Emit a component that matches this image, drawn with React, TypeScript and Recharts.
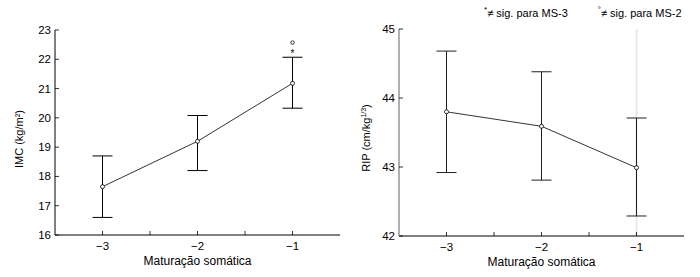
import { ErrorBar, Line, LineChart, ReferenceDot, ReferenceLine, XAxis, YAxis } from 'recharts';

const maturacao = [-3, -2, -1];

const imcMedia = [17.65, 19.2, 21.18];
const imcInferior = [16.6, 18.2, 20.33];
const imcSuperior = [18.7, 20.08, 22.07];

const ripMedia = [43.8, 43.59, 42.99];
const ripInferior = [42.92, 42.81, 42.29];
const ripSuperior = [44.68, 44.38, 43.71];

const xTicks = [-3, -2.5, -2, -1.5, -1];
const imcTicks = [16, 17, 18, 19, 20, 21, 22, 23];
const ripTicks = [42, 43, 44, 45];
const ripDireitaTicks = [0, 1, 2, 3, 4, 5, 6, 7];

// marcas de significância sobre MS-1 no IMC
const marcaGrauY = 22.57;
const marcaAsteriscoY = 22.3;

const FONT = '"Liberation Sans", Arial, sans-serif';

const imcData = maturacao.map((x, i) => ({
  x,
  media: imcMedia[i],
  erro: [imcMedia[i] - imcInferior[i], imcSuperior[i] - imcMedia[i]],
}));

const ripData = maturacao.map((x, i) => ({
  x,
  media: ripMedia[i],
  erro: [ripMedia[i] - ripInferior[i], ripSuperior[i] - ripMedia[i]],
}));

const formatMinus = (v: number) => (v < 0 ? `\u2212${Math.abs(v)}` : `${v}`);

function LeftTick({ x, y, payload }: any) {
  return (
    <g>
      <line x1={x} y1={y} x2={x + 4} y2={y} stroke="#000" strokeWidth={0.8} />
      <text x={x - 4} y={y + 4} textAnchor="end" fontSize={11.5} fontFamily={FONT} fill="#000">
        {payload.value}
      </text>
    </g>
  );
}

function RightTick({ x, y }: any) {
  return <line x1={x} y1={y} x2={x - 4} y2={y} stroke="#000" strokeWidth={0.8} />;
}

function TopTick({ x, y }: any) {
  return <line x1={x} y1={y} x2={x} y2={y + 4} stroke="#000" strokeWidth={0.8} />;
}

function BottomTick({ x, y, payload }: any) {
  const inteiro = Number.isInteger(payload.value);
  return (
    <g>
      <line x1={x} y1={y} x2={x} y2={y - 4} stroke="#000" strokeWidth={0.8} />
      {inteiro && (
        <text x={x} y={y + 15} textAnchor="middle" fontSize={11.5} fontFamily={FONT} fill="#000">
          {formatMinus(payload.value)}
        </text>
      )}
    </g>
  );
}

function xTitle({ viewBox }: any) {
  return (
    <text
      x={viewBox.x + viewBox.width / 2}
      y={viewBox.y + 30}
      textAnchor="middle"
      fontSize={12}
      fontFamily={FONT}
      fill="#000"
    >
      Maturação somática
    </text>
  );
}

function imcTitle() {
  const cx = 23;
  const cy = 139;
  return (
    <text
      x={cx}
      y={cy}
      transform={`rotate(-90, ${cx}, ${cy})`}
      textAnchor="middle"
      fontSize={11}
      fontFamily={FONT}
      fill="#000"
    >
      IMC (kg/m²)
    </text>
  );
}

function ripTitle() {
  const cx = 20;
  const cy = 138;
  return (
    <text
      x={cx}
      y={cy}
      transform={`rotate(-90, ${cx}, ${cy})`}
      textAnchor="middle"
      fontSize={11}
      fontFamily={FONT}
      fill="#000"
    >
      RIP (cm/kg
      <tspan dy={-4} fontSize={7}>
        1/3
      </tspan>
      <tspan dy={4}>)</tspan>
    </text>
  );
}

function ImcChart() {
  return (
    <LineChart
      width={350}
      height={277}
      data={imcData}
      margin={{ top: 30, right: 10, bottom: 0, left: 0 }}
    >
      <XAxis
        dataKey="x"
        type="number"
        domain={[-3.5, -0.5]}
        ticks={xTicks}
        height={42}
        tickSize={0}
        tickMargin={0}
        tickLine={false}
        axisLine={{ stroke: '#000', strokeWidth: 1 }}
        tick={<BottomTick />}
        label={{ content: xTitle }}
        allowDataOverflow
      />
      <XAxis
        xAxisId="top"
        dataKey="x"
        type="number"
        orientation="top"
        domain={[-3.5, -0.5]}
        ticks={xTicks}
        height={0}
        tickSize={0}
        tickMargin={0}
        tickLine={false}
        axisLine={{ stroke: '#000', strokeWidth: 1 }}
        tick={<TopTick />}
      />
      <YAxis
        type="number"
        domain={[16, 23]}
        ticks={imcTicks}
        width={55}
        tickSize={0}
        tickMargin={0}
        tickLine={false}
        axisLine={{ stroke: '#000', strokeWidth: 1 }}
        tick={<LeftTick />}
        label={{ content: imcTitle }}
        allowDataOverflow
      />
      <YAxis
        yAxisId="right"
        orientation="right"
        type="number"
        domain={[16, 23]}
        ticks={imcTicks}
        width={0}
        tickSize={0}
        tickMargin={0}
        tickLine={false}
        axisLine={{ stroke: '#000', strokeWidth: 1 }}
        tick={<RightTick />}
      />
      <Line
        dataKey="media"
        stroke="#000"
        strokeWidth={0.8}
        dot={{ r: 2, fill: '#fff', stroke: '#000', strokeWidth: 0.8 }}
        isAnimationActive={false}
      >
        <ErrorBar dataKey="erro" direction="y" width={10} stroke="#000" strokeWidth={1} />
      </Line>
      <ReferenceDot x={-1} y={marcaGrauY} r={1.7} fill="#fff" stroke="#000" strokeWidth={0.8} />
      <ReferenceDot
        x={-1}
        y={marcaAsteriscoY}
        r={0}
        stroke="none"
        label={{ value: '*', position: 'center', fontSize: 10, fontFamily: FONT, fill: '#000', dy: 3 }}
      />
    </LineChart>
  );
}

function RipChart() {
  return (
    <LineChart
      width={350}
      height={277}
      data={ripData}
      margin={{ top: 29, right: 16, bottom: 0, left: 0 }}
    >
      <XAxis
        dataKey="x"
        type="number"
        domain={[-3.5, -0.5]}
        ticks={xTicks}
        height={41}
        tickSize={0}
        tickMargin={0}
        tickLine={false}
        axisLine={{ stroke: '#000', strokeWidth: 1 }}
        tick={<BottomTick />}
        label={{ content: xTitle }}
        allowDataOverflow
      />
      <XAxis
        xAxisId="top"
        dataKey="x"
        type="number"
        orientation="top"
        domain={[-3.5, -0.5]}
        ticks={xTicks}
        height={0}
        tickSize={0}
        tickMargin={0}
        tickLine={false}
        axisLine={{ stroke: '#000', strokeWidth: 1 }}
        tick={<TopTick />}
      />
      <YAxis
        type="number"
        domain={[42, 45]}
        ticks={ripTicks}
        width={49}
        tickSize={0}
        tickMargin={0}
        tickLine={false}
        axisLine={{ stroke: '#b0b0b0', strokeWidth: 2 }}
        tick={<LeftTick />}
        label={{ content: ripTitle }}
        allowDataOverflow
      />
      <YAxis
        yAxisId="right"
        orientation="right"
        type="number"
        domain={[0, 7]}
        ticks={ripDireitaTicks}
        width={0}
        tickSize={0}
        tickMargin={0}
        tickLine={false}
        axisLine={{ stroke: '#000', strokeWidth: 1 }}
        tick={<RightTick />}
      />
      <ReferenceLine x={-1} stroke="#e8e8e8" strokeWidth={2} />
      <Line
        dataKey="media"
        stroke="#000"
        strokeWidth={0.8}
        dot={{ r: 2, fill: '#fff', stroke: '#000', strokeWidth: 0.8 }}
        isAnimationActive={false}
      >
        <ErrorBar dataKey="erro" direction="y" width={10} stroke="#222" strokeWidth={1} />
      </Line>
    </LineChart>
  );
}

export default function App() {
  return (
    <div
      style={{
        position: 'absolute',
        left: 0,
        top: 0,
        width: 700,
        height: 277,
        background: '#fff',
        fontFamily: FONT,
      }}
    >
      <div style={{ position: 'absolute', left: 0, top: 0 }}>
        <ImcChart />
      </div>
      <div style={{ position: 'absolute', left: 350, top: 0 }}>
        <RipChart />
      </div>
      <div
        style={{
          position: 'absolute',
          left: 484,
          top: 3,
          fontSize: 11,
          lineHeight: '13px',
          color: '#000',
          whiteSpace: 'nowrap',
        }}
      >
        <span>
          <sup style={{ fontSize: 8 }}>*</sup>≠ sig. para MS-3
        </span>
        <span style={{ marginLeft: 30 }}>
          <sup style={{ fontSize: 8 }}>°</sup>≠ sig. para MS-2
        </span>
      </div>
    </div>
  );
}
